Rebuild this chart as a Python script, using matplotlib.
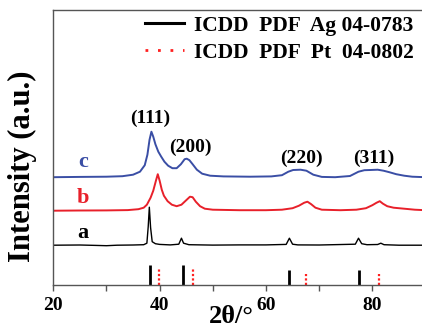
import matplotlib
matplotlib.use("Agg")
import matplotlib.pyplot as plt
from matplotlib.lines import Line2D

plt.rcParams['font.family'] = ['Liberation Serif', 'DejaVu Serif']
plt.rcParams['font.weight'] = 'bold'
plt.rcParams['axes.labelweight'] = 'bold'

# sample a (black)
a_x = [20, 25, 28, 30, 32, 35, 37.0, 37.6, 37.85, 38.06, 38.3, 38.6, 39.2, 40, 42,
       43.6, 44.1, 44.5, 45.5, 50, 55, 60, 63.8, 64.4, 65.0, 66, 70, 76.8, 77.4,
       78.0, 79, 81.0, 81.6, 82.2, 85, 90]
a_y = [39.5, 39.7, 39.3, 39.0, 39.5, 39.7, 40.0, 41.5, 58, 77.5, 57, 43, 41, 40.3, 39.8,
       40.5, 46.5, 41.5, 40, 39.6, 39.8, 39.8, 40.3, 46.5, 40.5, 39.8, 39.7, 40.5, 46.5,
       41, 40, 40.2, 41.5, 40, 39.5, 39.5]

# sample b (red)
b_x = [20, 25, 30, 34, 36, 37.0, 37.6, 38.3, 38.8, 39.3, 39.65, 40.0, 40.4, 40.8, 41.5,
       42.3, 43.2, 44.1, 45.0, 45.7, 46.2, 46.8, 47.6, 48.5, 50, 55, 60, 63, 65, 66.2,
       67.2, 67.8, 68.5, 69.3, 70.5, 74, 77, 78.8, 80.0, 80.8, 81.4, 82.0, 82.8, 84,
       86, 88, 90]
b_y = [74, 74.2, 74.3, 74.6, 75.5, 77, 80, 87, 94, 104, 110.5, 104, 95, 89, 83.5,
       80, 78.5, 80, 84.5, 88, 87.5, 83, 78.5, 76, 75, 74.5, 74.5, 75, 76.5, 79,
       82, 83, 80.5, 77, 75, 74.5, 75, 76.5, 79.5, 82, 83.5, 81, 78.5, 77,
       76, 75, 74.5]

# sample c (blue)
c_x = [20, 25, 30, 33, 35, 36.3, 37.2, 37.7, 38.1, 38.45, 38.8, 39.2, 39.75, 40.3,
       40.9, 41.6, 42.4, 43.2, 44.0, 44.7, 45.1, 45.6, 46.2, 47.0, 48.0, 49.5, 52, 57,
       61, 63, 64.2, 65.1, 66.5, 67.6, 68.9, 70.5, 73, 75.8, 77.4, 78.5, 79.6, 81,
       82.1, 83.2, 84.5, 86, 87.5, 90]
c_y = [107.5, 107.8, 108, 108.5, 110, 113, 119.5, 130, 145, 153, 148, 140.5, 133, 128,
       123, 119, 116.5, 116.5, 120.5, 125.5, 126, 124.5, 120.5, 115, 111, 109, 108.3, 108,
       108.3, 109.5, 113, 114.7, 115, 114, 110, 107.8, 107.5, 108.7, 113, 114.5, 114.7, 115,
       114, 112.5, 110.5, 109, 108, 107.5]

# reference patterns
ag_pos = [38.1, 44.3, 64.4, 77.4]
ag_h = [19.7, 19.7, 14.7, 14.7]
pt_pos = [39.8, 46.2, 67.5, 81.3]
pt_h = [16.0, 16.0, 11.0, 11.0]

hkl = ['(111)', '(200)', '(220)', '(311)']
hkl_x = [38.2, 45.7, 66.7, 80.2]
hkl_y = [162, 133, 121.4, 121.4]

names = ['a', 'b', 'c']
name_y = [46.4, 81.4, 118]
colors = ['black', '#e8202a', '#3a4ea5']

fig = plt.figure(figsize=(4.22, 3.28), dpi=100)
ax = fig.add_axes([0.1263, 0.132, 0.882, 0.8375])

ax.plot(a_x, a_y, color=colors[0], lw=1.0)
ax.plot(b_x, b_y, color=colors[1], lw=1.4)
ax.plot(c_x, c_y, color=colors[2], lw=1.4)

ax.vlines(ag_pos, 0, ag_h, colors='black', lw=2.0)
ax.vlines(pt_pos, 0, pt_h, colors='#ff2020', lw=1.6, linestyles=[(0, (1, 1))])

for lab, yy, col in zip(names, name_y, colors):
    ax.text(25.6, yy, lab, color=col, fontsize=16, ha='center', va='baseline')
for lab, xx, yy in zip(hkl, hkl_x, hkl_y):
    ax.text(xx, yy, lab, fontsize=14, ha='center', va='baseline')

handles = [Line2D([], [], color='black', lw=2.2),
           Line2D([], [], color='#ff2020', lw=2.0, ls=(0, (1, 3.5)))]
labels = ['ICDD  PDF  Ag 04-0783', 'ICDD  PDF  Pt  04-0802']
ax.legend(handles, labels, loc='upper left', bbox_to_anchor=(0.246, 0.979),
          frameon=False, fontsize=15.5, handlelength=1.8, handletextpad=0.5,
          labelspacing=0.33, borderpad=0, borderaxespad=0)

ax.set_xlim(20, 90)
ax.set_ylim(0, 274.7)
ax.set_xticks([20, 40, 60, 80])
ax.set_xticks([30, 50, 70, 90], minor=True)
ax.set_yticks([])
ax.tick_params(axis='x', which='both', direction='out', length=4, width=1,
               color='#555555', labelsize=14, pad=5)
for s in ax.spines.values():
    s.set_color('#555555')
    s.set_linewidth(1.0)

ax.set_xlabel('2θ/°', fontsize=19)
ax.xaxis.set_label_coords(0.479, -0.074)
ax.set_ylabel('Intensity (a.u.)', fontsize=22)
ax.yaxis.set_label_coords(-0.045, 0.432)

fig.savefig('out.png', dpi=100)
